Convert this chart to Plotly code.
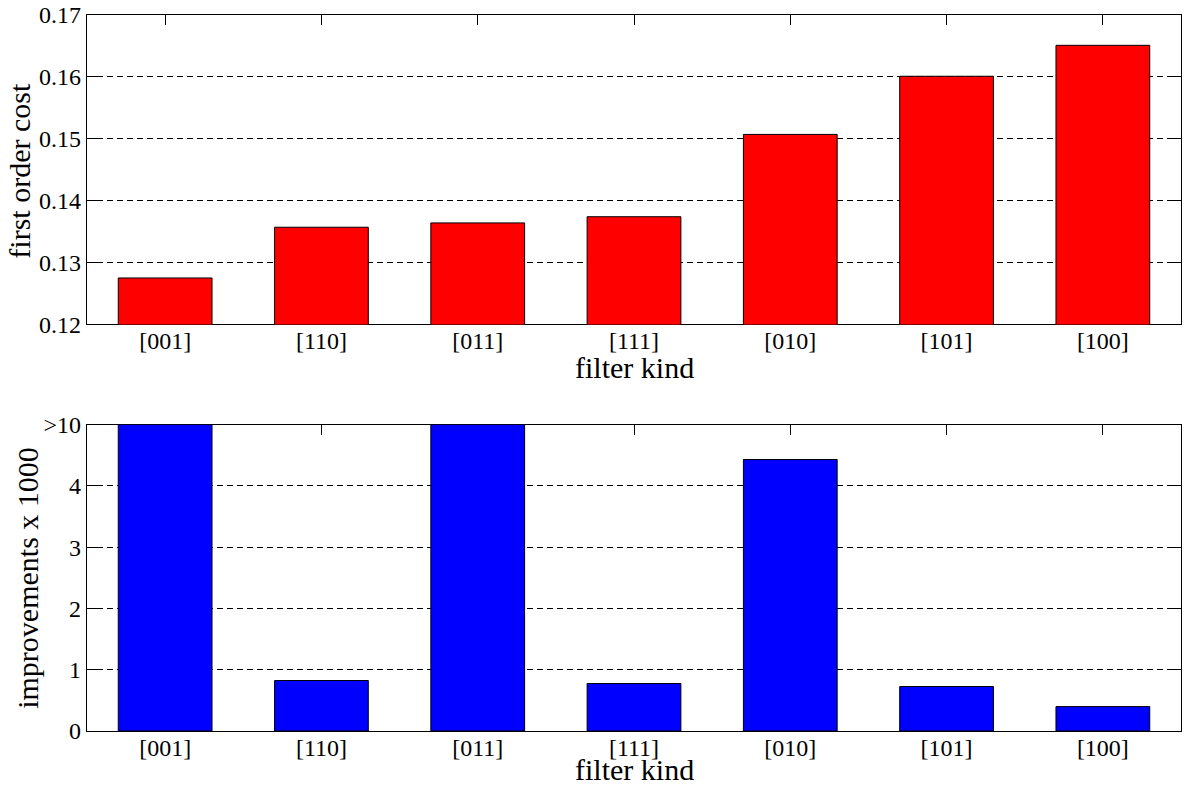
import plotly.graph_objects as go
from plotly.subplots import make_subplots

# filter kinds, in the order they are plotted
filters = ["[001]", "[110]", "[011]", "[111]", "[010]", "[101]", "[100]"]

# first order cost per filter kind
first_order_cost = [0.1275, 0.1357, 0.1364, 0.1374, 0.1507, 0.1601, 0.1651]

# improvements (x 1000); entries of 10 stand for ">10" and are clipped at the axis top
improvements = [10, 0.824, 10, 0.775, 4.43, 0.726, 0.398]

cost_ticks = [0.12, 0.13, 0.14, 0.15, 0.16, 0.17]
impr_ticks = [0, 1, 2, 3, 4, 5]
impr_ticktext = ["0", "1", "2", "3", "4", ">10"]
impr_cap = 5

FONT = "Liberation Serif, Times New Roman, serif"
TITLE_FONT = dict(family=FONT, size=30, color="black")

fig = make_subplots(rows=2, cols=1, vertical_spacing=0.14)

fig.add_trace(go.Bar(
    x=filters, y=first_order_cost, base=0,
    marker=dict(color="#ff0000", line=dict(color="black", width=1)),
    width=0.6, showlegend=False,
), row=1, col=1)

clipped = [min(v, impr_cap) for v in improvements]
fig.add_trace(go.Bar(
    x=filters, y=clipped,
    marker=dict(color="#0000ff", line=dict(color="black", width=1)),
    width=0.6, showlegend=False,
), row=2, col=1)

axis_common = dict(
    showline=True, linecolor="black", linewidth=1.2, mirror="ticks",
    ticks="inside", ticklen=10, tickwidth=1, tickcolor="black",
    tickfont=dict(family=FONT, size=24, color="black"),
    layer="below traces", zeroline=False,
)

for r in (1, 2):
    fig.update_xaxes(
        type="category", range=[-0.5, 6.5], showgrid=False,
        ticklabelstandoff=-5,
        row=r, col=1, **axis_common,
    )

fig.update_yaxes(
    range=[0.12, 0.17], tickvals=cost_ticks, ticktext=[f"{v:.2f}" for v in cost_ticks],
    showgrid=True, gridcolor="black", gridwidth=1, griddash="6px,4px",
    row=1, col=1, **axis_common,
)
fig.update_yaxes(
    range=[0, impr_cap], tickvals=impr_ticks, ticktext=impr_ticktext,
    showgrid=True, gridcolor="black", gridwidth=1, griddash="6px,4px",
    row=2, col=1, **axis_common,
)

# axis titles placed as annotations in paper coordinates
titles = [
    dict(text="filter kind", x=0.5, y=0.5077, textangle=0),
    dict(text="filter kind", x=0.5, y=-0.0542, textangle=0),
    dict(text="first order cost", x=-0.0612, y=0.7827, textangle=-90),
    dict(text="improvements x 1000", x=-0.0539, y=0.214, textangle=-90),
]
for t in titles:
    fig.add_annotation(
        text=t["text"], x=t["x"], y=t["y"], xref="paper", yref="paper",
        xanchor="center", yanchor="middle", textangle=t["textangle"],
        showarrow=False, font=TITLE_FONT,
    )

fig.update_layout(
    width=1184, height=787,
    margin=dict(l=87, r=2, t=12, b=56),
    paper_bgcolor="white", plot_bgcolor="white",
    bargap=0.4,
    font=dict(family=FONT, color="black"),
)
fig.layout.yaxis.domain = [0.5679, 1.0]
fig.layout.yaxis2.domain = [0.0, 0.428]

fig.write_html("out.html")
